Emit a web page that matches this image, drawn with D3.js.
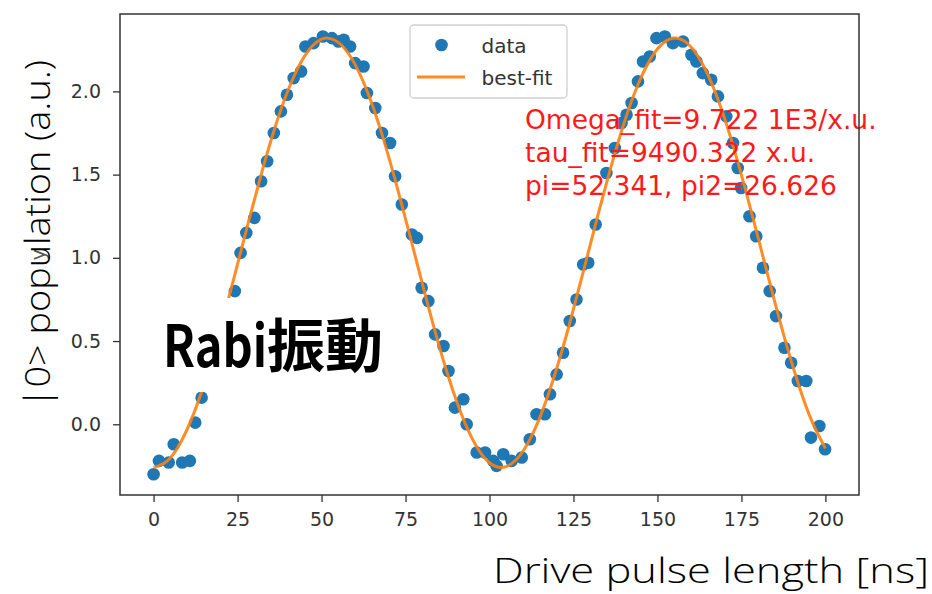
<!DOCTYPE html>
<html><head><meta charset="utf-8">
<script src="https://cdn.jsdelivr.net/npm/d3@7"></script>
<style>html,body{margin:0;padding:0;background:#fff;}svg{display:block;}</style>
</head><body>
<svg id="chart" width="932" height="594"></svg>
<script>
// ---- data ----
const pulseLength = [0,1.6,4.5,6.0,8.5,10.8,12.4,14.3,
  24.2,25.9,27.6,30.0,32.0,33.8,35.8,37.9,39.7,41.7,43.9,45.2,47.6,50.4,53.1,55.0,56.6,58.5,
  60.0,62.5,63.5,66.0,68.0,70.4,71.9,73.9,76.9,78.4,79.8,81.8,83.8,86.3,87.8,89.7,92.2,93.2,
  96.2,98.7,101.1,102.1,104.1,106.6,109.6,112.0,114.0,116.5,118.0,120.0,121.9,123.9,125.9,
  127.9,129.4,131.6,134.8,137.3,139.3,140.8,142.3,144.2,145.7,147.7,149.7,152.2,154.6,157.6,
  160.1,161.6,163.5,166.0,168.0,170.5,172.5,173.9,174.9,177.4,179.4,181.4,183.4,185.3,187.8,
  189.8,191.8,194.3,195.7,198.2,199.9];
const population = [-0.30,-0.22,-0.23,-0.12,-0.23,-0.22,0.01,0.16,
  0.80,1.03,1.15,1.24,1.46,1.58,1.75,1.88,1.98,2.08,2.12,2.27,2.29,2.33,2.32,2.30,2.31,2.27,
  2.17,2.15,1.99,1.90,1.75,1.69,1.49,1.32,1.14,1.12,0.82,0.74,0.54,0.47,0.32,0.10,0.15,0.00,
  -0.17,-0.17,-0.22,-0.25,-0.18,-0.22,-0.20,-0.09,0.06,0.06,0.18,0.30,0.43,0.62,0.75,
  0.96,0.97,1.20,1.51,1.66,1.81,1.86,1.93,2.06,2.18,2.21,2.32,2.33,2.29,2.30,
  2.22,2.18,2.11,2.07,1.97,1.85,1.69,1.54,1.42,1.25,1.13,0.94,0.80,0.65,0.46,
  0.37,0.26,0.26,-0.08,-0.01,-0.15];
const fitLength = [0,4,8,12,16,20,24,28,32,36,40,44,48,52,56,60,64,68,72,76,80,84,88,92,96,100,
  104,108,112,116,120,124,128,132,136,140,144,148,152,156,160,164,168,172,176,180,184,188,192,196,200];
const fitPopulation = [-0.26,-0.222,-0.111,0.067,0.302,0.58,0.884,1.196,1.499,1.774,2.005,2.18,2.287,2.32,
  2.277,2.161,1.979,1.742,1.462,1.157,0.845,0.543,0.27,0.042,-0.129,-0.231,-0.259,-0.212,-0.092,0.094,
  0.335,0.616,0.923,1.235,1.535,1.806,2.031,2.197,2.295,2.319,2.267,2.142,1.953,1.709,1.425,1.118,
  0.806,0.507,0.239,0.017,-0.145];
const xTicks = [0,25,50,75,100,125,150,175,200];
const yTicks = [0.0,0.5,1.0,1.5,2.0];
const fitText = ["Omega_fit=9.722 1E3/x.u.","tau_fit=9490.322 x.u.","pi=52.341, pi2=26.626"];
const legendLabels = ["data","best-fit"];

// ---- chart ----
const svg = d3.select("#chart");
const L=120, R=859, T=14, B=495;
const x = d3.scaleLinear().domain([-10,210]).range([L,R]);
const y = d3.scaleLinear().domain([-0.425,2.465]).range([B,T]);
const blue="#1f77b4", orange="#ff7f0e", tickCol="#333";

// axes
const xAxis = svg.append("g").attr("transform",`translate(0,${B})`)
  .call(d3.axisBottom(x).tickValues(xTicks).tickSize(7).tickPadding(6).tickFormat(d3.format("d")));
const yAxis = svg.append("g").attr("transform",`translate(${L},0)`)
  .call(d3.axisLeft(y).tickValues(yTicks).tickSize(7).tickPadding(12).tickFormat(d3.format(".1f")));
[xAxis,yAxis].forEach(g=>{
  g.select(".domain").remove();
  g.selectAll(".tick line").attr("stroke",tickCol).attr("stroke-width",1.3);
  g.selectAll(".tick text").attr("fill",tickCol).style("font-family","DejaVu Sans").style("font-size","19px");
});
xAxis.selectAll(".tick text").attr("dy","0.95em");

// data points
svg.append("g").selectAll("circle").data(pulseLength).join("circle")
  .attr("cx",(d)=>x(d)).attr("cy",(d,i)=>y(population[i])).attr("r",6.3).attr("fill",blue);

// fit line
const line = d3.line().x(d=>x(d[0])).y(d=>y(d[1])).curve(d3.curveNatural);
svg.append("path").datum(fitLength.map((t,i)=>[t,fitPopulation[i]]))
  .attr("d",line).attr("fill","none").attr("stroke",orange).attr("stroke-width",3).attr("opacity",0.9);

// annotation
const ann = svg.append("text").attr("fill","#ff1a1a").style("font-family","DejaVu Sans").style("font-size","26.5px");
fitText.forEach((s,i)=>ann.append("tspan").attr("x",525).attr("y",129+i*33).text(s));

// frame
svg.append("rect").attr("x",L).attr("y",T).attr("width",R-L).attr("height",B-T)
  .attr("fill","none").attr("stroke","#333").attr("stroke-width",1.5);

// legend
const lg = svg.append("g");
lg.append("rect").attr("x",410).attr("y",25).attr("width",157).attr("height",73).attr("rx",4)
  .attr("fill","#fff").attr("fill-opacity",0.85).attr("stroke","#d0d0d0").attr("stroke-width",1.3);
lg.append("circle").attr("cx",441.5).attr("cy",45).attr("r",6.3).attr("fill",blue);
lg.append("line").attr("x1",417).attr("x2",465).attr("y1",77).attr("y2",77).attr("stroke",orange).attr("stroke-width",3).attr("opacity",0.9);
legendLabels.forEach((s,i)=>lg.append("text").attr("x",481.5).attr("y",53+i*32).attr("fill","#333")
  .style("font-family","DejaVu Sans").style("font-size","20px").text(s));

// overlay label (with white patch)
svg.append("rect").attr("x",158).attr("y",298).attr("width",230).attr("height",94).attr("fill","#fff");
const rabi = svg.append("text").attr("x",163).attr("y",367).attr("fill","#000")
  .style("font-family","'Noto Sans CJK JP'").style("font-weight","700").style("font-size","58px");
rabi.append("tspan").attr("textLength",104).attr("lengthAdjust","spacingAndGlyphs").text("Rabi");
rabi.append("tspan").text("振動");

// faint default y label
svg.append("text").attr("transform",`translate(45,${(T+B)/2}) rotate(-90)`).attr("text-anchor","middle")
  .attr("fill","#555").style("font-family","DejaVu Sans").style("font-size","19px").text("y");

// axis titles
svg.append("text").attr("transform","translate(50,234) rotate(-90)").attr("text-anchor","middle")
  .attr("textLength",348).attr("lengthAdjust","spacingAndGlyphs")
  .attr("fill","#000").style("font-family","'Open Sans'").style("font-weight","300").style("font-size","34px").text("|0> population (a.u.)");
svg.append("text").attr("x",493).attr("y",583)
  .attr("textLength",436).attr("lengthAdjust","spacingAndGlyphs")
  .attr("fill","#000").style("font-family","'Open Sans'").style("font-weight","300").style("font-size","35px").text("Drive pulse length [ns]");
</script>
</body></html>
